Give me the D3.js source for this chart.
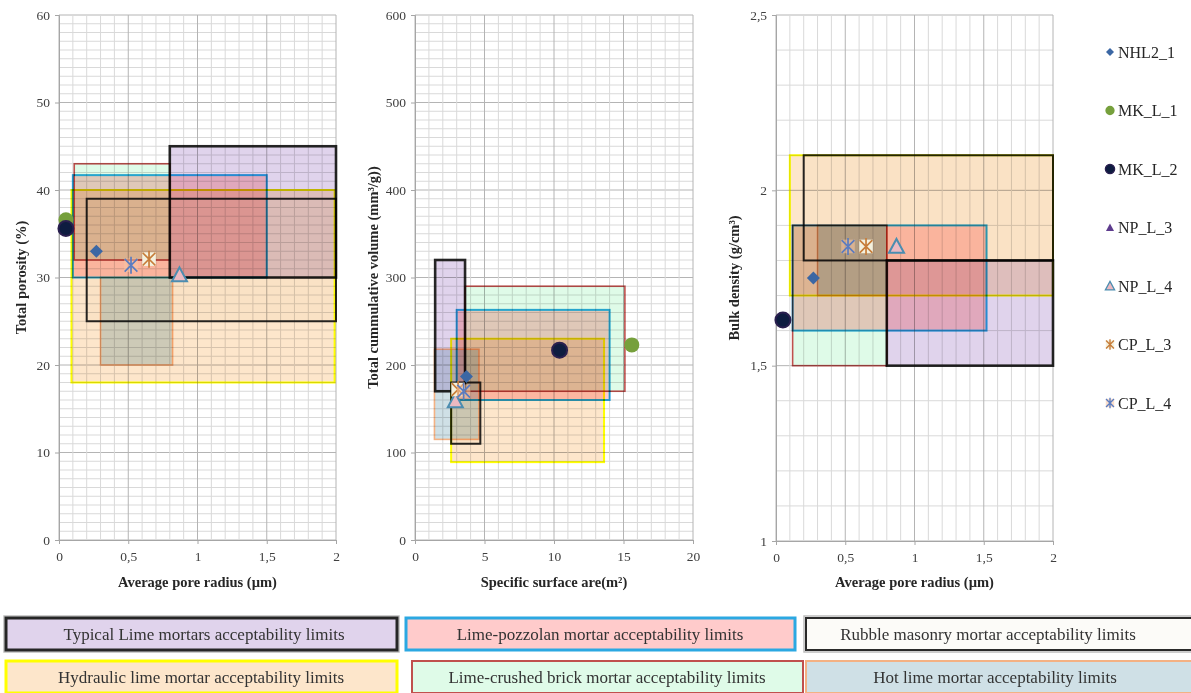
<!DOCTYPE html>
<html>
<head>
<meta charset="utf-8">
<script src="https://cdn.jsdelivr.net/npm/d3@7"></script>
<style>
  body { margin: 0; background: #fff; }
  svg { display: block; font-family: "Liberation Serif", "Times New Roman", serif; }
</style>
</head>
<body>
<svg id="chart" width="1191" height="693"></svg>
<script>
// ---- acceptability limit types (legend order) ----
const limitLabels = [
  "Typical Lime mortars acceptability limits",
  "Lime-pozzolan mortar acceptability limits",
  "Rubble masonry mortar acceptability limits",
  "Hydraulic lime mortar acceptability limits",
  "Lime-crushed brick mortar acceptability limits",
  "Hot lime mortar acceptability limits"
];

// limit ranges as [min x, max x, min y, max y], one row per limit type
const porosityRanges = [
  [0.8, 2.0, 30, 45],
  [0.1, 1.5, 30, 41.7],
  [0.2, 2.0, 25, 39],
  [0.09, 1.99, 18, 40],
  [0.11, 0.8, 32, 43],
  [0.3, 0.82, 20, 30]
];
const volumeRanges = [
  [1.45, 3.6, 170, 320],
  [3.0, 14.0, 160, 263],
  [2.6, 4.7, 110, 180],
  [2.6, 13.6, 89, 230],
  [3.6, 15.1, 170, 290],
  [1.4, 4.6, 115, 218]
];
const densityRanges = [
  [0.8, 2.0, 1.5, 1.8],
  [0.12, 1.52, 1.6, 1.9],
  [0.2, 2.0, 1.8, 2.1],
  [0.1, 2.0, 1.7, 2.1],
  [0.12, 0.8, 1.5, 1.9],
  [0.3, 0.8, 1.7, 1.9]
];

// ---- mortar samples ----
const sampleNames = ["NHL2_1", "MK_L_1", "MK_L_2", "NP_L_3", "NP_L_4", "CP_L_3", "CP_L_4"];
const poreRadius = [0.27, 0.05, 0.05, 0.87, 0.87, 0.65, 0.52];
const totalPorosity = [33.0, 36.6, 35.6, 30.3, 30.3, 32.1, 31.4];
const surfaceArea = [3.7, 15.6, 10.4, 2.9, 2.9, 3.1, 3.5];
const cumulativeVolume = [187, 223, 217, 159, 159, 172, 170];
const bulkDensity = [1.75, 1.63, 1.63, 1.84, 1.84, 1.84, 1.84];

// ---- tick labels ----
const radiusTicks = [0, 0.5, 1, 1.5, 2];
const porosityTicks = [0, 10, 20, 30, 40, 50, 60];
const surfaceTicks = [0, 5, 10, 15, 20];
const volumeTicks = [0, 100, 200, 300, 400, 500, 600];
const densityTicks = [1, 1.5, 2, 2.5];

// ---- styles ----
const limitFills = ["#e0d3ec", "#ffcbcb", "#fcfbf8", "#fde6cb", "#dffbe8", "#cfe0e6"];
const limitStrokes = ["#262626", "#2ba8e2", "#2a2a2a", "#ffff00", "#c0504d", "#f4b183"];
const limitStrokeWidths = [2.6, 2, 2, 2, 1.6, 1.6];
const drawOrder = [3, 2, 5, 0, 4, 1];

const markerStyles = [
  { shape: "diamond", fill: "#3b67a4", stroke: "none", r: 6.5 },
  { shape: "circle", fill: "#76a03c", stroke: "none", r: 7.5 },
  { shape: "circle", fill: "#0e1c40", stroke: "#2a1f4f", r: 7.5 },
  { shape: "triangle", fill: "#5e3c8e", stroke: "none", r: 6.5 },
  { shape: "triangle", fill: "#ebb9c1", stroke: "#4b8db0", r: 7.5 },
  { shape: "asterisk", fill: "#f4f1de", stroke: "#c77d3a", r: 8.5 },
  { shape: "asterisk", fill: "rgba(249,196,160,0.55)", stroke: "#5b7cc0", r: 8.5 }
];

const fmt = v => String(v).replace(".", ",");

function markerPath(shape, r) {
  if (shape === "diamond") return `M0,${-r}L${r},0L0,${r}L${-r},0Z`;
  if (shape === "triangle") return `M0,${-r}L${r},${r * 0.85}L${-r},${r * 0.85}Z`;
  if (shape === "circle") return d3.symbol(d3.symbolCircle, Math.PI * r * r)();
  const a = r * 0.75;
  return `M${-a},${-a}L${a},${a}M${-a},${a}L${a},${-a}M0,${-r}L0,${r}`;
}

function drawMarker(g, style, x, y, scale) {
  const r = style.r * scale;
  if (style.shape === "asterisk") {
    const s = r * 0.8;
    g.append("rect").attr("x", x - s).attr("y", y - s).attr("width", 2 * s).attr("height", 2 * s)
      .attr("fill", style.fill);
    g.append("path").attr("transform", `translate(${x},${y})`).attr("d", markerPath("asterisk", r))
      .attr("fill", "none").attr("stroke", style.stroke).attr("stroke-width", 1.7 * Math.max(scale, 0.8));
  } else {
    g.append("path").attr("transform", `translate(${x},${y})`).attr("d", markerPath(style.shape, r))
      .attr("fill", style.fill)
      .attr("stroke", style.stroke).attr("stroke-width", style.stroke === "none" ? 0 : 2 * scale);
  }
}

const svg = d3.select("#chart");

const panels = [
  {
    x: d3.scaleLinear([0, 2], [59, 336]), y: d3.scaleLinear([0, 60], [540, 15]),
    xTicks: radiusTicks, yTicks: porosityTicks, xMinor: 0.1, yMinor: 1,
    ranges: porosityRanges, xs: poreRadius, ys: totalPorosity,
    xTitle: "Average pore radius (µm)", yTitle: "Total porosity (%)", yTitleX: 21
  },
  {
    x: d3.scaleLinear([0, 20], [415, 693]), y: d3.scaleLinear([0, 600], [540, 15]),
    xTicks: surfaceTicks, yTicks: volumeTicks, xMinor: 1, yMinor: 10,
    ranges: volumeRanges, xs: surfaceArea, ys: cumulativeVolume,
    xTitle: "Specific surface are(m²)", yTitle: "Total cummulative volume (mm³/g))", yTitleX: 373
  },
  {
    x: d3.scaleLinear([0, 2], [776, 1053]), y: d3.scaleLinear([1, 2.5], [541, 15]),
    xTicks: radiusTicks, yTicks: densityTicks, xMinor: 0.1, yMinor: 0.1,
    ranges: densityRanges, xs: poreRadius, ys: bulkDensity,
    xTitle: "Average pore radius (µm)", yTitle: "Bulk density (g/cm³)", yTitleX: 734
  }
];

function steps(domain, step) {
  const n = Math.round((domain[1] - domain[0]) / step);
  return d3.range(n + 1).map(i => domain[0] + i * step);
}
const isMajor = (v, ticks) => ticks.some(t => Math.abs(t - v) < 1e-6);

panels.forEach(p => {
  const g = svg.append("g");
  const [x0, x1] = p.x.range();
  const [y0, y1] = p.y.range();

  // grid
  const grid = g.append("g");
  steps(p.y.domain(), p.yMinor).forEach(v => {
    grid.append("line").attr("x1", x0).attr("x2", x1).attr("y1", p.y(v)).attr("y2", p.y(v))
      .attr("stroke", isMajor(v, p.yTicks) ? "#b4b4b4" : "#d9d9d9").attr("stroke-width", 1);
  });
  steps(p.x.domain(), p.xMinor).forEach(v => {
    grid.append("line").attr("y1", y0).attr("y2", y1).attr("x1", p.x(v)).attr("x2", p.x(v))
      .attr("stroke", isMajor(v, p.xTicks) ? "#b4b4b4" : "#d9d9d9").attr("stroke-width", 1);
  });

  // limit rectangles
  const rects = g.append("g");
  drawOrder.forEach(i => {
    const [ax, bx, ay, by] = p.ranges[i];
    rects.append("rect")
      .attr("x", p.x(ax)).attr("y", p.y(by))
      .attr("width", p.x(bx) - p.x(ax)).attr("height", p.y(ay) - p.y(by))
      .attr("fill", limitFills[i])
      .attr("stroke", limitStrokes[i]).attr("stroke-width", limitStrokeWidths[i])
      .style("mix-blend-mode", "multiply");
  });

  // axes
  const ax = g.append("g").attr("transform", `translate(0,${y0})`)
    .call(d3.axisBottom(p.x).tickValues(p.xTicks).tickFormat(fmt).tickSize(4).tickPadding(7));
  const ay = g.append("g").attr("transform", `translate(${x0},0)`)
    .call(d3.axisLeft(p.y).tickValues(p.yTicks).tickFormat(fmt).tickSize(4).tickPadding(5));
  [ax, ay].forEach(a => {
    a.select(".domain").attr("stroke", "#a6a6a6");
    a.selectAll(".tick line").attr("stroke", "#a6a6a6");
    a.selectAll("text").attr("fill", "#404040").style("font-size", "13.5px")
      .style("font-family", '"Liberation Serif", serif');
  });

  // titles
  g.append("text").attr("x", (x0 + x1) / 2).attr("y", 587).attr("text-anchor", "middle")
    .style("font-size", "14.5px").style("font-weight", "bold").attr("fill", "#262626").text(p.xTitle);
  g.append("text").attr("transform", `translate(${p.yTitleX},${(y0 + y1) / 2}) rotate(-90)`)
    .attr("text-anchor", "middle").attr("dy", "0.35em")
    .style("font-size", "14.5px").style("font-weight", "bold").attr("fill", "#262626").text(p.yTitle);

  // sample markers
  const mg = g.append("g");
  sampleNames.forEach((name, i) => {
    drawMarker(mg, markerStyles[i], p.x(p.xs[i]), p.y(p.ys[i]), 1);
  });
});

// sample legend
const sl = svg.append("g");
sampleNames.forEach((name, i) => {
  const y = 52 + i * 58.5;
  drawMarker(sl, markerStyles[i], 1110, y, 0.62);
  sl.append("text").attr("x", 1118).attr("y", y).attr("dy", "0.35em")
    .style("font-size", "16px").attr("fill", "#262626").text(name);
});

// limit legend boxes
const boxes = [
  { x: 6, y: 618, w: 391, h: 32, cx: 204 }, { x: 406, y: 618, w: 389, h: 32, cx: 600 },
  { x: 806, y: 618, w: 392, h: 32, cx: 988 },
  { x: 6, y: 661, w: 391, h: 32, cx: 201 }, { x: 412, y: 661, w: 391, h: 32, cx: 607 },
  { x: 806, y: 661, w: 392, h: 32, cx: 995 }
];
const ll = svg.append("g");
limitLabels.forEach((label, i) => {
  const b = boxes[i];
  if (i === 0 || i === 2) {
    ll.append("rect").attr("x", b.x - 2).attr("y", b.y - 2).attr("width", b.w + 4).attr("height", b.h + 4)
      .attr("fill", "none").attr("stroke", "#bdbdbd").attr("stroke-width", 1.5);
  }
  ll.append("rect").attr("x", b.x).attr("y", b.y).attr("width", b.w).attr("height", b.h)
    .attr("fill", limitFills[i]).attr("stroke", limitStrokes[i])
    .attr("stroke-width", i === 0 || i === 1 || i === 3 ? 3 : 2);
  ll.append("text").attr("x", b.cx).attr("y", b.y + b.h / 2).attr("dy", "0.35em")
    .attr("text-anchor", "middle").style("font-size", "17px").attr("fill", "#333")
    .text(label);
});
</script>
</body>
</html>
